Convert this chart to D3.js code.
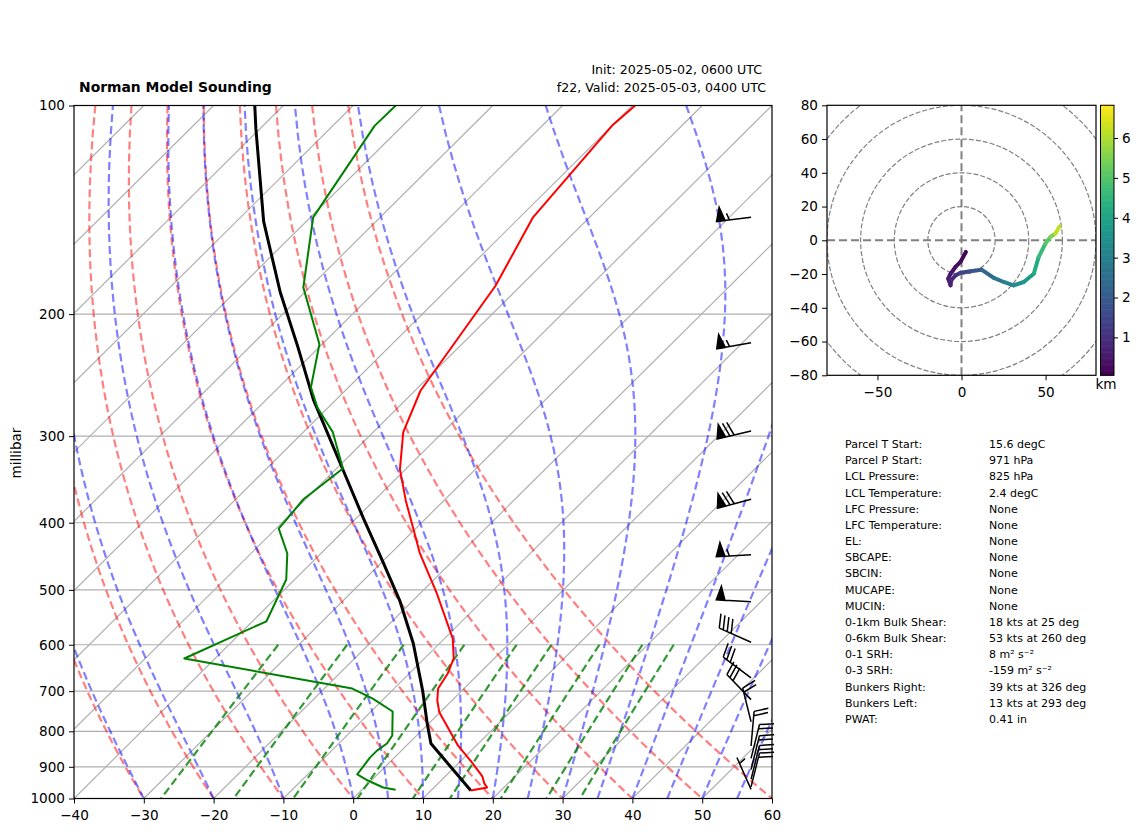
<!DOCTYPE html>
<html>
<head>
<meta charset="utf-8">
<script src="https://cdn.jsdelivr.net/npm/d3@7"></script>
<style>
  body { margin: 0; background: #fff; }
  svg { display: block; }
  text { font-family: "DejaVu Sans", sans-serif; fill: #000; }
</style>
</head>
<body>
<div id="chart"></div>
<script>
// sounding
const tempP = [974, 964, 951, 929, 887, 839, 751, 722, 694, 660, 628, 588, 506, 443, 372, 335, 296, 258, 182, 145, 107, 100];
const tempC = [15.7, 17.6, 16.6, 15.3, 11.8, 7.4, -0.1, -2.1, -3.7, -4.5, -5.8, -8.8, -17.6, -25.8, -35.4, -40.8, -45.7, -49.2, -53.6, -58.1, -60.0, -59.6];

const dewP = [971, 964, 942, 923, 873, 853, 833, 811, 749, 717, 694, 628, 555, 483, 443, 408, 370, 334, 296, 273, 255, 221, 183, 145, 107, 100];
const dewC = [4.8, 2.7, -0.5, -2.9, -3.5, -3.5, -3.1, -3.5, -6.9, -11.7, -16.0, -44.4, -38.0, -41.2, -44.8, -49.6, -50.3, -49.1, -55.8, -61.5, -65.4, -70.4, -80.9, -89.6, -94.0, -93.9];

const parcelP = [974, 833, 779, 699, 597, 518, 454, 394, 336, 266, 223, 186, 147, 108, 100];
const parcelC = [15.7, 3.2, -0.25, -5.6, -13.8, -21.9, -30.1, -39.0, -48.8, -63.2, -73.1, -83.5, -96.1, -110.6, -114.1];

const barbP = [145, 220, 295, 370, 445, 520, 595, 670, 720, 775, 840, 875, 908, 938, 962, 970];
const barbDir = [263, 260, 257, 255, 267, 273, 294, 307, 316, 346, 5, 14, 14, 14, 14, 336];
const barbKt = [55, 55, 70, 70, 55, 50, 40, 30, 30, 20, 20, 20, 20, 20, 20, 5];

const hodoU = [2.6, -0.6, -3.6, -6.5, -7.9, -6.5, -6.1, -3.6, -0.6, 5.3, 11.9, 19.2, 25.1, 31, 37, 43, 45.9, 49.9, 52.9, 55.8, 58.4];
const hodoV = [-6.9, -12.8, -15.8, -19.8, -22.7, -26.7, -23.7, -20.8, -19.2, -18.4, -17.4, -22.3, -24.7, -26.7, -24.7, -19.8, -9.9, -2, 2, 4, 8.3];
const hodoKm = [0.1, 0.2, 0.3, 0.4, 0.5, 0.6, 0.75, 0.95, 1.2, 1.6, 2.0, 2.5, 2.9, 3.2, 3.5, 3.9, 4.4, 4.9, 5.3, 5.8, 6.6];

const statLabels = ["Parcel T Start:", "Parcel P Start:", "LCL Pressure:", "LCL Temperature:", "LFC Pressure:", "LFC Temperature:", "EL:", "SBCAPE:", "SBCIN:", "MUCAPE:", "MUCIN:", "0-1km Bulk Shear:", "0-6km Bulk Shear:", "0-1 SRH:", "0-3 SRH:", "Bunkers Right:", "Bunkers Left:", "PWAT:"];
const statValues = ["15.6 degC", "971 hPa", "825 hPa", "2.4 degC", "None", "None", "None", "None", "None", "None", "None", "18 kts at 25 deg", "53 kts at 260 deg", "8 m² s⁻²", "-159 m² s⁻²", "39 kts at 326 deg", "13 kts at 293 deg", "0.41 in"];

// background lines of the diagram
const isotherms = d3.range(-130, 61, 10);
const dryStart = d3.range(-40, 61, 10);
const moistStart = [-40, -30, -20, -10, 0, 5, 10, 15, 20, 25, 30, 35, 40, 45, 50, 55, 60];
const mixRatios = [0.0004, 0.001, 0.002, 0.004, 0.007, 0.01, 0.016, 0.024, 0.032];
const pTicks = d3.range(100, 1001, 100);
const tTicks = d3.range(-40, 61, 10);
const rings = [20, 40, 60, 80, 100];

const W = 1142;
const H = 832;
const plot = { left: 74, right: 772, top: 105.5, bottom: 798.5 };
const hodo = { left: 827, right: 1096, top: 105.3, bottom: 375.3 };
const fontSize = "13.6px";

const svg = d3.select("#chart").append("svg").attr("width", W).attr("height", H);
const defs = svg.append("defs");

const x = d3.scaleLinear().domain([-40, 60]).range([plot.left, plot.right]);
const y = d3.scaleLog().domain([1000, 100]).range([plot.bottom, plot.top]);

// same skew as a 45 degree skew-T: one plot height up is one plot width across
const skewX = (t, p) => x(t) + (y(1000) - y(p)) * (plot.right - plot.left) / (plot.bottom - plot.top);
const skewLine = d3.line().x(d => skewX(d[0], d[1])).y(d => y(d[1]));
const minus = s => String(s).replace("-", "\u2212");

defs.append("clipPath").attr("id", "plotClip").append("rect")
  .attr("x", plot.left).attr("y", plot.top)
  .attr("width", plot.right - plot.left).attr("height", plot.bottom - plot.top);

const levels = d3.range(100, 1001, 10);

const satVapor = tK => 6.112 * Math.exp(17.67 * (tK - 273.15) / (tK - 29.65));

// pseudoadiabat slope dT/dlnp
const moistSlope = (p, tK) => {
  const rs = 0.622 * satVapor(tK) / (p - satVapor(tK));
  return (287 * tK + 2.501e6 * rs) / (1005 + 2.501e6 * 2.501e6 * rs * 0.622 / (287 * tK * tK));
};

const moistCurve = (t0) => {
  const pts = [[t0, 1000]];
  let tK = t0 + 273.15;
  for (let p = 1000; p > 100; p -= 10) {
    const h = Math.log((p - 10) / p);
    const k1 = moistSlope(p, tK);
    const k2 = moistSlope(p * Math.exp(h / 2), tK + k1 * h / 2);
    const k3 = moistSlope(p * Math.exp(h / 2), tK + k2 * h / 2);
    const k4 = moistSlope(p - 10, tK + k3 * h);
    tK += (k1 + 2 * k2 + 2 * k3 + k4) * h / 6;
    pts.push([tK - 273.15, p - 10]);
  }
  return pts;
};

const drawBackground = () => {
  const g = svg.append("g").attr("clip-path", "url(#plotClip)").attr("fill", "none");

  pTicks.forEach(p => {
    g.append("line").attr("x1", plot.left).attr("x2", plot.right)
      .attr("y1", y(p)).attr("y2", y(p))
      .attr("stroke", "#b0b0b0").attr("stroke-width", 1.2);
  });
  isotherms.forEach(t => {
    g.append("path").attr("d", skewLine([[t, 1000], [t, 100]]))
      .attr("stroke", "#b0b0b0").attr("stroke-width", 1.2);
  });
  dryStart.forEach(t0 => {
    const pts = levels.map(p => [(t0 + 273.15) * Math.pow(p / 1000, 0.286) - 273.15, p]);
    g.append("path").attr("d", skewLine(pts))
      .attr("stroke", "#ff0000").attr("stroke-opacity", 0.5)
      .attr("stroke-width", 2.2).attr("stroke-dasharray", "8,4");
  });
  moistStart.forEach(t0 => {
    g.append("path").attr("d", skewLine(moistCurve(t0)))
      .attr("stroke", "#0000ff").attr("stroke-opacity", 0.5)
      .attr("stroke-width", 2.2).attr("stroke-dasharray", "8,4");
  });
  mixRatios.forEach(w => {
    const pts = d3.range(600, 1001, 10).map(p => {
      const ln = Math.log(p * w / (0.622 + w) / 6.112);
      return [243.5 * ln / (17.67 - ln), p];
    });
    g.append("path").attr("d", skewLine(pts))
      .attr("stroke", "#008000").attr("stroke-opacity", 0.8)
      .attr("stroke-width", 2.2).attr("stroke-dasharray", "8,4");
  });
};

const drawProfiles = () => {
  const g = svg.append("g").attr("clip-path", "url(#plotClip)").attr("fill", "none").attr("stroke-linejoin", "round");
  const zip = (ts, ps) => ts.map((t, i) => [t, ps[i]]);
  g.append("path").attr("d", skewLine(zip(parcelC, parcelP))).attr("stroke", "#000").attr("stroke-width", 3);
  g.append("path").attr("d", skewLine(zip(tempC, tempP))).attr("stroke", "#ff0000").attr("stroke-width", 2);
  g.append("path").attr("d", skewLine(zip(dewC, dewP))).attr("stroke", "#008000").attr("stroke-width", 2);
};

const drawBarbs = () => {
  const g = svg.append("g").attr("fill", "#000").attr("stroke", "#000").attr("stroke-width", 1.5);
  const len = 34.8;
  const baseX = plot.left + 0.97 * (plot.right - plot.left);
  const fh = len * 0.4, fw = len * 0.25, gap = len * 0.125;

  barbP.forEach((p, i) => {
    let left = barbKt[i];
    const flags = Math.floor(left / 50); left -= flags * 50;
    const fulls = Math.floor(left / 10); left -= fulls * 10;
    const half = left >= 5;
    // staff runs along +y toward the upwind side, feathers on +x
    let off = len;
    let d = `M0,0L0,${len}`;
    for (let k = 0; k < flags; k++) {
      d += `M0,${off}L${fh},${off - fw / 2}L0,${off - fw}Z`;
      off -= fw + gap;
    }
    for (let k = 0; k < fulls; k++) {
      d += `M0,${off}L${fh},${off + fw / 2}`;
      off -= gap;
    }
    if (half) {
      if (!flags && !fulls) off -= 1.5 * gap;
      d += `M0,${off}L${fh / 2},${off + fw / 4}`;
    }
    // y is down on screen, so mirror local y and turn to the wind direction
    g.append("path").attr("d", d)
      .attr("transform", `translate(${baseX},${y(p)}) rotate(${barbDir[i]}) scale(1,-1)`);
  });
};

const drawSkewAxes = () => {
  svg.append("g").attr("transform", `translate(0,${plot.bottom})`)
    .call(d3.axisBottom(x).tickValues(tTicks).tickFormat(minus).tickSize(5).tickPadding(7));
  svg.append("g").attr("transform", `translate(${plot.left},0)`)
    .call(d3.axisLeft(y).tickValues(pTicks).tickFormat(d3.format("d")).tickSize(5).tickPadding(4));
  svg.selectAll(".domain").remove();
  svg.selectAll(".tick text").style("font-size", fontSize);

  svg.append("rect").attr("x", plot.left).attr("y", plot.top)
    .attr("width", plot.right - plot.left).attr("height", plot.bottom - plot.top)
    .attr("fill", "none").attr("stroke", "#000").attr("stroke-width", 1.2);

  svg.append("text").attr("transform", "translate(21,453) rotate(-90)")
    .attr("text-anchor", "middle").style("font-size", fontSize).text("millibar");
  svg.append("text").attr("x", 79).attr("y", 92)
    .style("font-size", "13.9px").style("font-weight", "bold").text("Norman Model Sounding");
  svg.append("text").attr("x", 762).attr("y", 74).attr("text-anchor", "end")
    .style("font-size", "12.6px").text("Init: 2025-05-02, 0600 UTC");
  svg.append("text").attr("x", 766).attr("y", 92).attr("text-anchor", "end")
    .style("font-size", "12.6px").text("f22, Valid: 2025-05-03, 0400 UTC");
};

const drawHodograph = () => {
  const hx = d3.scaleLinear().domain([-80, 80]).range([hodo.left, hodo.right]);
  const hy = d3.scaleLinear().domain([-80, 80]).range([hodo.bottom, hodo.top]);
  const km = d3.scaleLinear().domain([0.05, 6.82]).range([hodo.bottom, hodo.top]);
  const color = d3.scaleSequential(d3.interpolateViridis).domain([0.05, 6.82]);

  defs.append("clipPath").attr("id", "hodoClip").append("rect")
    .attr("x", hodo.left).attr("y", hodo.top)
    .attr("width", hodo.right - hodo.left).attr("height", hodo.bottom - hodo.top);

  const g = svg.append("g").attr("clip-path", "url(#hodoClip)").attr("fill", "none");
  rings.forEach(r => {
    g.append("ellipse").attr("cx", hx(0)).attr("cy", hy(0))
      .attr("rx", hx(r) - hx(0)).attr("ry", hy(0) - hy(r))
      .attr("stroke", "#808080").attr("stroke-width", 1.2).attr("stroke-dasharray", "5,2");
  });
  g.append("line").attr("x1", hx(-80)).attr("x2", hx(80)).attr("y1", hy(0)).attr("y2", hy(0))
    .attr("stroke", "#808080").attr("stroke-width", 2).attr("stroke-dasharray", "8,4");
  g.append("line").attr("x1", hx(0)).attr("x2", hx(0)).attr("y1", hy(-80)).attr("y2", hy(80))
    .attr("stroke", "#808080").attr("stroke-width", 2).attr("stroke-dasharray", "8,4");

  hodoU.slice(1).forEach((u, i) => {
    g.append("line")
      .attr("x1", hx(hodoU[i])).attr("y1", hy(hodoV[i]))
      .attr("x2", hx(u)).attr("y2", hy(hodoV[i + 1]))
      .attr("stroke", color((hodoKm[i] + hodoKm[i + 1]) / 2))
      .attr("stroke-width", 4).attr("stroke-linecap", "round");
  });

  const xAxis = svg.append("g").attr("transform", `translate(0,${hodo.bottom})`)
    .call(d3.axisBottom(hx).tickValues([-50, 0, 50]).tickFormat(minus).tickSize(5).tickPadding(7));
  const yAxis = svg.append("g").attr("transform", `translate(${hodo.left},0)`)
    .call(d3.axisLeft(hy).tickValues(d3.range(-80, 81, 20)).tickFormat(minus).tickSize(5).tickPadding(4));
  [xAxis, yAxis].forEach(a => {
    a.select(".domain").remove();
    a.selectAll("text").style("font-size", fontSize);
  });
  svg.append("rect").attr("x", hodo.left).attr("y", hodo.top)
    .attr("width", hodo.right - hodo.left).attr("height", hodo.bottom - hodo.top)
    .attr("fill", "none").attr("stroke", "#000").attr("stroke-width", 1.2);

  // colour bar
  const barLeft = 1100.5, barRight = 1114;
  const steps = d3.range(0.05, 6.82, 0.03);
  svg.append("g").selectAll("rect").data(steps).enter().append("rect")
    .attr("x", barLeft).attr("width", barRight - barLeft)
    .attr("y", d => km(d + 0.03) - 0.3)
    .attr("height", d => km(d) - km(d + 0.03) + 0.6)
    .attr("fill", d => color(d));
  svg.append("rect").attr("x", barLeft).attr("y", hodo.top)
    .attr("width", barRight - barLeft).attr("height", hodo.bottom - hodo.top)
    .attr("fill", "none").attr("stroke", "#000").attr("stroke-width", 1);
  const barAxis = svg.append("g").attr("transform", `translate(${barRight},0)`)
    .call(d3.axisRight(km).tickValues([1, 2, 3, 4, 5, 6]).tickFormat(d3.format("d")).tickSize(4).tickPadding(4));
  barAxis.select(".domain").remove();
  barAxis.selectAll("text").style("font-size", fontSize);
  svg.append("text").attr("x", 1106).attr("y", 389).attr("text-anchor", "middle")
    .style("font-size", fontSize).text("km");
};

const drawStats = () => {
  const row = d3.scaleLinear().domain([0, statLabels.length - 1]).range([448, 723]);
  const g = svg.append("g").style("font-size", "11px");
  g.selectAll("text.label").data(statLabels).enter().append("text")
    .attr("class", "label").attr("x", 845).attr("y", (d, i) => row(i)).text(d => d);
  g.selectAll("text.value").data(statValues).enter().append("text")
    .attr("class", "value").attr("x", 989).attr("y", (d, i) => row(i)).text(d => d);
};

drawBackground();
drawProfiles();
drawSkewAxes();
drawBarbs();
drawHodograph();
drawStats();
</script>
</body>
</html>
